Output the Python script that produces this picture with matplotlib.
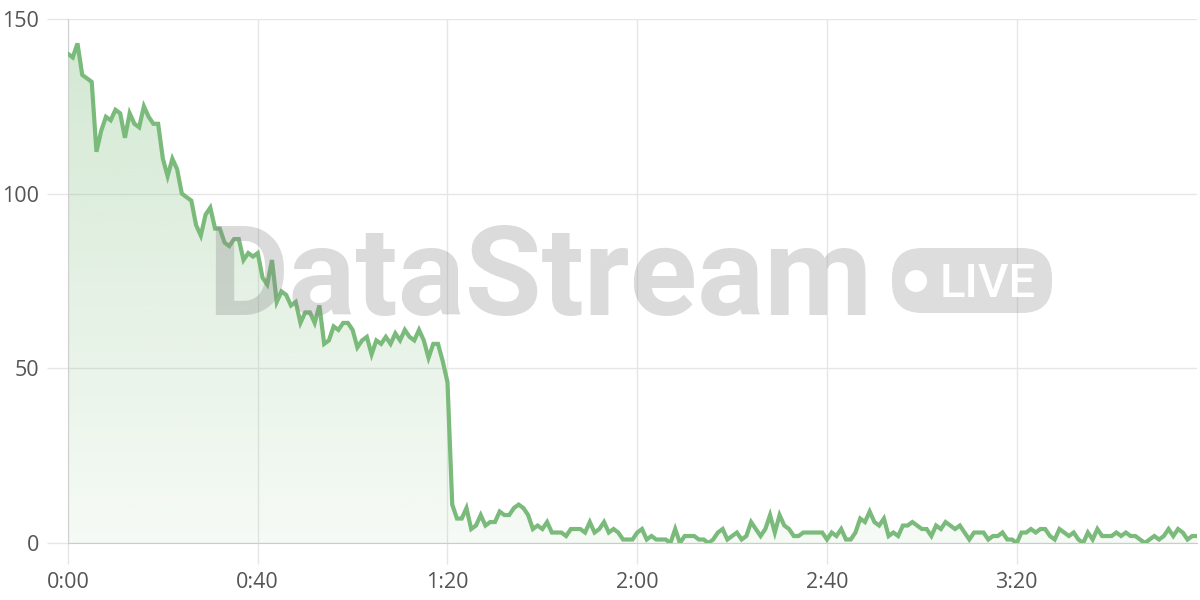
import numpy as np
import matplotlib
matplotlib.use("Agg")
import matplotlib.pyplot as plt
from matplotlib.patches import FancyBboxPatch, Ellipse
from matplotlib.ticker import FuncFormatter

plt.rcParams['font.family'] = ['Open Sans', 'DejaVu Sans']

# one sample per second
values = [
    140, 139, 143, 134, 133, 132, 112, 118, 122, 121,
    124, 123, 116, 123, 120, 119, 125, 122, 120, 120,
    110, 105, 110, 107, 100, 99, 98, 91, 88, 94,
    96, 90, 90, 86, 85, 87, 87, 81, 83, 82,
    83, 76, 74, 81, 69, 72, 71, 68, 69, 63,
    66, 66, 63, 68, 57, 58, 62, 61, 63, 63,
    61, 56, 58, 59, 54, 58, 57, 59, 57, 60,
    58, 61, 59, 58, 61, 58, 53, 57, 57, 52,
    46, 11, 7, 7, 10, 4, 5, 8, 5, 6,
    6, 9, 8, 8, 10, 11, 10, 8, 4, 5,
    4, 6, 3, 3, 3, 2, 4, 4, 4, 3,
    6, 3, 4, 6, 3, 4, 3, 1, 1, 1,
    3, 4, 1, 2, 1, 1, 1, 0, 4, 0,
    2, 2, 2, 1, 1, 0, 1, 3, 4, 1,
    2, 3, 1, 2, 6, 4, 2, 4, 8, 3,
    8, 5, 4, 2, 2, 3, 3, 3, 3, 3,
    1, 3, 2, 4, 1, 1, 3, 7, 6, 9,
    6, 5, 7, 2, 3, 2, 5, 5, 6, 5,
    4, 4, 2, 5, 4, 6, 5, 4, 5, 3,
    1, 3, 3, 3, 1, 2, 2, 3, 1, 1,
    0, 3, 3, 4, 3, 4, 4, 2, 1, 4,
    3, 2, 3, 1, 0, 3, 1, 4, 2, 2,
    2, 3, 2, 3, 2, 2, 1, 0, 1, 2,
    1, 2, 4, 2, 4, 3, 1, 2, 2,
]
seconds = np.arange(len(values))
x_ticks = [0, 40, 80, 120, 160, 200]
y_ticks = [0, 50, 100, 150]

line_color = '#7aba7a'
grid_color = '#e6e6e6'

fig = plt.figure(figsize=(12, 6), dpi=100)
ax = fig.add_axes([68 / 1200, 57 / 600, 1129 / 1200, 524 / 600])
ax.set_xlim(0, seconds[-1])
ax.set_ylim(0, 150)

# gradient fill under the line
poly = ax.fill_between(seconds, values, 0, color='none', lw=0)
grad = np.zeros((256, 1, 4))
grad[:, 0, 0] = 122 / 255
grad[:, 0, 1] = 186 / 255
grad[:, 0, 2] = 122 / 255
grad[:, 0, 3] = np.linspace(0.34, 0.07, 256)
img = ax.imshow(grad, extent=[0, seconds[-1], 0, 150], aspect='auto',
                origin='upper', zorder=1)
img.set_clip_path(poly.get_paths()[0], transform=ax.transData)

ax.plot(seconds, values, color=line_color, lw=3, zorder=3,
        solid_joinstyle='miter')

ax.set_xticks(x_ticks)
ax.set_yticks(y_ticks)
ax.xaxis.set_major_formatter(FuncFormatter(lambda v, p: f"{int(v) // 60}:{int(v) % 60:02d}"))
ax.grid(True, color=grid_color, lw=1, zorder=0)
ax.set_axisbelow(True)
ax.tick_params(length=15, width=1, color=grid_color, labelsize=15.5,
               labelcolor='#555555', pad=6)
for s in ['top', 'right']:
    ax.spines[s].set_visible(False)
ax.spines['left'].set_color('#d0d0d0')
ax.spines['bottom'].set_color('#cccccc')

# watermark
fig.text(207 / 1200, 1 - 315 / 600, 'DataStream', fontsize=90, fontweight='bold',
         family='Roboto', color='#888888', alpha=0.3, ha='left', va='baseline',
         zorder=10)
badge = FancyBboxPatch((892 / 1200, 1 - 313 / 600), 160 / 1200, 65 / 600,
                       boxstyle='round,pad=0,rounding_size=0.025',
                       transform=fig.transFigure, facecolor='#888888', alpha=0.28,
                       edgecolor='none', zorder=10, mutation_aspect=2)
fig.add_artist(badge)
fig.add_artist(Ellipse((916 / 1200, 1 - 281 / 600), 22 / 1200, 22 / 600,
                       transform=fig.transFigure, facecolor='white',
                       edgecolor='none', zorder=11))
fig.text(940 / 1200, 1 - 297 / 600, 'LIVE', fontsize=34, fontweight='medium',
         family='Roboto', color='white', ha='left', va='baseline', zorder=11)

fig.savefig('out.png', dpi=100, facecolor='white')
